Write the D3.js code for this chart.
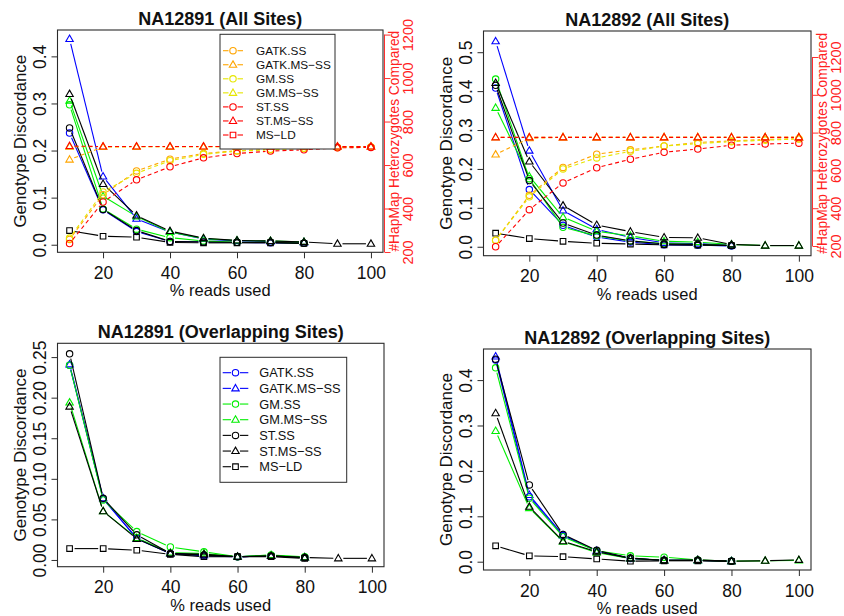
<!DOCTYPE html>
<html>
<head>
<meta charset="utf-8">
<script src="https://cdn.jsdelivr.net/npm/d3@7"></script>
<style>
  body { margin: 0; background: #fff; }
  svg { display: block; font-family: "Liberation Sans", Arial, Helvetica, sans-serif; }
</style>
</head>
<body>
<div id="container"></div>
<script>
//genotype discordance vs % reads used, 2x2 panels in R base-plot style

var readsPct = [10, 20, 30, 40, 50, 60, 70, 80, 90, 100];
var methodNames = ["GATK.SS", "GATK.MS-SS", "GM.SS", "GM.MS-SS", "ST.SS", "ST.MS-SS", "MS-LD"];
var methodShapes = ["circle", "triangle", "circle", "triangle", "circle", "triangle", "square"];
var discColors = ["#0000ff", "#0000ff", "#00ee00", "#00ee00", "#000000", "#000000", "#000000"];
var hetColors = ["#ffa500", "#ffa500", "#e6e600", "#e6e600", "#ff0000", "#ff0000", "#ff0000"];

//NA12891, all sites: genotype discordance (left axis)
var disc12891All = [
  [0.237, 0.074, 0.028, 0.007, 0.006, 0.005, 0.004, 0.003, null, null],
  [0.437, 0.145, 0.055, 0.027, 0.012, 0.008, 0.007, 0.005, null, null],
  [0.297, 0.076, 0.033, 0.015, 0.008, 0.005, 0.005, 0.003, null, null],
  [0.306, 0.103, 0.060, 0.027, 0.013, 0.009, 0.008, 0.006, null, null],
  [0.248, 0.075, 0.030, 0.007, 0.006, 0.005, 0.005, 0.003, null, null],
  [0.320, 0.129, 0.062, 0.029, 0.014, 0.009, 0.008, 0.006, 0.002, 0.002],
  [0.030, 0.018, 0.016, 0.005, 0.004, 0.004, 0.004, 0.003, null, null]
];
//NA12891, all sites: hapmap heterozygotes compared (right axis)
var het12891All = [
  [258, 463, 573, 627, 653, 666, 672, 677, 681, 683],
  [625, 683, 684, 684, 684, 684, 684, 684, 684, 684],
  [264, 476, 562, 620, 649, 664, 670, 677, 681, 683],
  [684, 684, 684, 684, 684, 684, 684, 684, 684, 684],
  [239, 430, 532, 592, 633, 653, 664, 670, 679, 681],
  [687, 685, 685, 685, 685, 685, 685, 685, 685, 685],
  [null, null, null, null, null, null, null, null, null, null]
];

//NA12892, all sites
var disc12892All = [
  [0.408, 0.147, 0.055, 0.025, 0.012, 0.005, 0.004, 0.002, null, null],
  [0.528, 0.247, 0.093, 0.045, 0.024, 0.010, 0.008, 0.004, null, null],
  [0.431, 0.175, 0.050, 0.028, 0.015, 0.008, 0.006, 0.003, null, null],
  [0.357, 0.181, 0.076, 0.040, 0.028, 0.014, 0.012, 0.006, 0.003, 0.003],
  [0.415, 0.170, 0.061, 0.030, 0.015, 0.007, 0.006, 0.003, null, null],
  [0.421, 0.219, 0.106, 0.056, 0.039, 0.024, 0.023, 0.006, 0.003, 0.003],
  [0.035, 0.021, 0.014, 0.009, 0.007, 0.005, 0.004, 0.003, null, null]
];
var het12892All = [
  [231, 468, 616, 686, 709, 729, 748, 756, 764, 768],
  [684, 770, 775, 775, 775, 775, 775, 775, 775, 775],
  [231, 460, 608, 666, 701, 729, 742, 752, 760, 766],
  [775, 775, 775, 775, 775, 775, 775, 775, 775, 775],
  [196, 392, 534, 614, 659, 696, 713, 733, 740, 744],
  [775, 775, 775, 775, 775, 775, 775, 775, 775, 775],
  [null, null, null, null, null, null, null, null, null, null]
];

//NA12891, overlapping sites
var disc12891Overlap = [
  [0.240, 0.075, 0.027, 0.008, 0.005, 0.004, 0.005, 0.003, null, null],
  [0.241, 0.076, 0.026, 0.008, 0.006, 0.004, 0.005, 0.003, null, null],
  [0.240, 0.074, 0.035, 0.016, 0.010, 0.004, 0.006, 0.004, null, null],
  [0.194, 0.060, 0.027, 0.009, 0.008, 0.004, 0.006, 0.003, null, null],
  [0.254, 0.076, 0.031, 0.008, 0.006, 0.004, 0.005, 0.003, null, null],
  [0.189, 0.060, 0.026, 0.008, 0.007, 0.004, 0.005, 0.003, 0.002, 0.002],
  [0.014, 0.014, 0.012, 0.007, 0.004, 0.004, 0.004, 0.002, null, null]
];

//NA12892, overlapping sites
var disc12892Overlap = [
  [0.444, 0.143, 0.058, 0.024, 0.007, 0.003, 0.003, 0.001, null, null],
  [0.452, 0.147, 0.058, 0.024, 0.007, 0.003, 0.003, 0.001, null, null],
  [0.427, 0.140, 0.055, 0.024, 0.013, 0.010, 0.004, 0.001, null, null],
  [0.288, 0.118, 0.044, 0.020, 0.007, 0.003, 0.003, 0.001, 0.002, 0.003],
  [0.446, 0.169, 0.060, 0.025, 0.008, 0.003, 0.003, 0.001, null, null],
  [0.327, 0.121, 0.045, 0.022, 0.007, 0.003, 0.004, 0.001, 0.002, 0.004],
  [0.035, 0.013, 0.011, 0.006, 0.001, 0.002, 0.002, 0.001, null, null]
];

var xTicks = [20, 40, 60, 80, 100];
var hetTicks = [200, 400, 600, 800, 1000, 1200];
var yTicksA = [0, 0.1, 0.2, 0.3, 0.4];
var yTicksB = [0, 0.1, 0.2, 0.3, 0.4, 0.5];
var yTicksC = [0, 0.05, 0.10, 0.15, 0.20, 0.25];

var width = 844, height = 616;
var axisColor = "#2b2b2b";

var svg = d3.select("#container").append("svg")
    .attr("width", width)
    .attr("height", height);

var panels = [
  { title: "NA12891 (All Sites)", box: [57.5, 383, 30, 252.3], yDom: [-0.0161, 0.456], yTicks: yTicksA, fmt: d3.format(".1f"),
    disc: disc12891All, het: het12891All, hetDom: [198.6, 1221], legend: "het" },
  { title: "NA12892 (All Sites)", box: [483.5, 811, 31, 255.7], yDom: [-0.023, 0.5545], yTicks: yTicksB, fmt: d3.format(".1f"),
    disc: disc12892All, het: het12892All, hetDom: [148.7, 1337.6] },
  { title: "NA12891 (Overlapping Sites)", box: [57.5, 384, 343.3, 566.7], yDom: [-0.0083, 0.267], yTicks: yTicksC, fmt: d3.format(".2f"),
    disc: disc12891Overlap, legend: "disc" },
  { title: "NA12892 (Overlapping Sites)", box: [483.5, 811, 349, 570], yDom: [-0.0183, 0.4685], yTicks: yTicksA, fmt: d3.format(".1f"),
    disc: disc12892Overlap }
];

//R-like point symbols
function symbolPath(shape) {
  if (shape === "circle") return d3.symbol().type(d3.symbolCircle).size(Math.PI * 3.2 * 3.2)();
  if (shape === "square") return "M-2.8,-2.8H2.8V2.8H-2.8Z";
  return "M0,-3.9L3.7,2.5L-3.7,2.5Z";
}

//draw a type="b" series: segments stop short of each point
function drawSeries(g, values, x, y, color, shape, dashed) {
  var pts = [];
  values.forEach(function(v, i) {
    if (v !== null) pts.push([x(readsPct[i]), y(v)]);
  });
  var gap = 5;
  for (var i = 0; i < pts.length - 1; i++) {
    var p = pts[i], q = pts[i + 1];
    var dx = q[0] - p[0], dy = q[1] - p[1];
    var len = Math.sqrt(dx * dx + dy * dy);
    if (len <= gap * 2) continue;
    var ux = dx / len, uy = dy / len;
    g.append("line")
        .attr("x1", p[0] + ux * gap).attr("y1", p[1] + uy * gap)
        .attr("x2", q[0] - ux * gap).attr("y2", q[1] - uy * gap)
        .attr("stroke", color)
        .attr("stroke-width", 1.1)
        .attr("stroke-dasharray", dashed ? "4,3" : null);
  }
  g.selectAll(null)
      .data(pts)
      .enter()
      .append("path")
      .attr("d", symbolPath(shape))
      .attr("transform", function(d) { return "translate(" + d[0] + "," + d[1] + ")"; })
      .attr("fill", "none")
      .attr("stroke", color)
      .attr("stroke-width", 1.1);
}

function drawLegend(g, opts) {
  g.append("rect")
      .attr("x", opts.x0).attr("y", opts.y0)
      .attr("width", opts.x1 - opts.x0).attr("height", opts.y1 - opts.y0)
      .attr("fill", "#fff")
      .attr("stroke", axisColor)
      .attr("stroke-width", 1);
  methodNames.forEach(function(name, i) {
    var ry = opts.firstRow + i * opts.step;
    var color = opts.colors[i];
    var sx = opts.symX;
    g.append("line")
        .attr("x1", opts.lineX0).attr("x2", sx - 4.5)
        .attr("y1", ry).attr("y2", ry)
        .attr("stroke", color).attr("stroke-width", 1.1);
    g.append("line")
        .attr("x1", sx + 4.5).attr("x2", opts.lineX1)
        .attr("y1", ry).attr("y2", ry)
        .attr("stroke", color).attr("stroke-width", 1.1);
    g.append("path")
        .attr("d", symbolPath(methodShapes[i]))
        .attr("transform", "translate(" + sx + "," + ry + ")")
        .attr("fill", "none")
        .attr("stroke", color)
        .attr("stroke-width", 1.1);
    g.append("text")
        .attr("x", opts.textX).attr("y", ry)
        .attr("dominant-baseline", "central")
        .style("font-size", opts.fontSize + "px")
        .attr("fill", "#111")
        .text(name.replace("-", "\u2212"));
  });
}

panels.forEach(function(p) {
  var g = svg.append("g");
  var b = p.box;

  var x = d3.scaleLinear().domain([6.4, 103.6]).range([b[0], b[1]]);
  var y = d3.scaleLinear().domain(p.yDom).range([b[3], b[2]]);

  //x axis
  var xAxis = g.append("g")
      .attr("transform", "translate(0," + b[3] + ")")
      .call(d3.axisBottom(x).tickValues(xTicks).tickSize(6).tickFormat(d3.format("d")));
  xAxis.select(".domain").remove();
  xAxis.selectAll("line").attr("stroke", axisColor);
  xAxis.selectAll("text")
      .attr("y", 20.5).attr("dy", null)
      .attr("dominant-baseline", "central")
      .style("font-size", "17.5px")
      .style("font-family", "Liberation Sans, Arial, sans-serif")
      .attr("fill", "#111");

  //y axis, labels parallel to axis
  var yAxis = g.append("g")
      .attr("transform", "translate(" + b[0] + ",0)")
      .call(d3.axisLeft(y).tickValues(p.yTicks).tickSize(6).tickFormat(p.fmt));
  yAxis.select(".domain").remove();
  yAxis.selectAll("line").attr("stroke", axisColor);
  yAxis.selectAll("text")
      .attr("x", null).attr("dy", null)
      .attr("text-anchor", "middle")
      .attr("dominant-baseline", "central")
      .attr("transform", "translate(-18,0) rotate(-90)")
      .style("font-size", "17.5px")
      .style("font-family", "Liberation Sans, Arial, sans-serif")
      .attr("fill", "#111");

  //titles
  g.append("text")
      .attr("x", (b[0] + b[1]) / 2).attr("y", b[2] - 11)
      .attr("text-anchor", "middle")
      .attr("dominant-baseline", "central")
      .style("font-size", "18px").style("font-weight", "bold")
      .attr("fill", "#111")
      .text(p.title);
  g.append("text")
      .attr("x", (b[0] + b[1]) / 2).attr("y", b[3] + 38)
      .attr("text-anchor", "middle")
      .attr("dominant-baseline", "central")
      .style("font-size", "16.5px")
      .attr("fill", "#111")
      .text("% reads used");
  g.append("text")
      .attr("transform", "translate(" + (b[0] - 37) + "," + ((b[2] + b[3]) / 2) + ") rotate(-90)")
      .attr("text-anchor", "middle")
      .attr("dominant-baseline", "central")
      .style("font-size", "17px")
      .attr("fill", "#111")
      .text("Genotype Discordance");

  //discordance series
  p.disc.forEach(function(vals, i) {
    drawSeries(g, vals, x, y, discColors[i], methodShapes[i], false);
  });

  //heterozygotes on secondary axis
  if (p.het) {
    var y2 = d3.scaleLinear().domain(p.hetDom).range([b[3], b[2]]);
    p.het.forEach(function(vals, i) {
      drawSeries(g, vals, x, y2, hetColors[i], methodShapes[i], true);
    });
    var ax = b[1] + 1.5;
    var rAxis = g.append("g")
        .attr("transform", "translate(" + ax + ",0)")
        .call(d3.axisRight(y2).tickValues(hetTicks).tickSize(6).tickFormat(d3.format("d")));
    rAxis.select(".domain").remove();
    rAxis.selectAll("line").attr("stroke", "#ff3030");
    rAxis.selectAll("text")
        .attr("x", null).attr("dy", null)
        .attr("text-anchor", "middle")
        .attr("dominant-baseline", "central")
        .attr("transform", "translate(23.5,0) rotate(-90)")
        .style("font-size", "14.5px")
        .style("font-family", "Liberation Sans, Arial, sans-serif")
        .attr("fill", "#ff2020");
    g.append("line")
        .attr("x1", ax).attr("x2", ax)
        .attr("y1", y2(hetTicks[0])).attr("y2", y2(hetTicks[hetTicks.length - 1]))
        .attr("stroke", "#ff3030").attr("stroke-width", 1);
    g.append("text")
        .attr("transform", "translate(" + (ax + 10) + "," + ((b[2] + b[3]) / 2) + ") rotate(-90)")
        .attr("text-anchor", "middle")
        .attr("dominant-baseline", "central")
        .style("font-size", "13.8px")
        .attr("fill", "#ff2020")
        .text("#HapMap Heterozygotes Compared");
  }

  //plot frame
  g.append("rect")
      .attr("x", b[0]).attr("y", b[2])
      .attr("width", b[1] - b[0]).attr("height", b[3] - b[2])
      .attr("fill", "none")
      .attr("stroke", axisColor)
      .attr("stroke-width", 1.1);

  if (p.legend === "het") {
    drawLegend(g, { x0: 220, x1: 335, y0: 34.3, y1: 149, firstRow: 50.7, step: 14.05,
      lineX0: 223, lineX1: 243, symX: 233, textX: 256, fontSize: 11.8, colors: hetColors });
  } else if (p.legend === "disc") {
    drawLegend(g, { x0: 220, x1: 346.7, y0: 357.3, y1: 482.3, firstRow: 372.7, step: 15.67,
      lineX0: 222.7, lineX1: 248.3, symX: 235.5, textX: 259.3, fontSize: 12.8, colors: discColors });
  }
});
</script>
</body>
</html>
